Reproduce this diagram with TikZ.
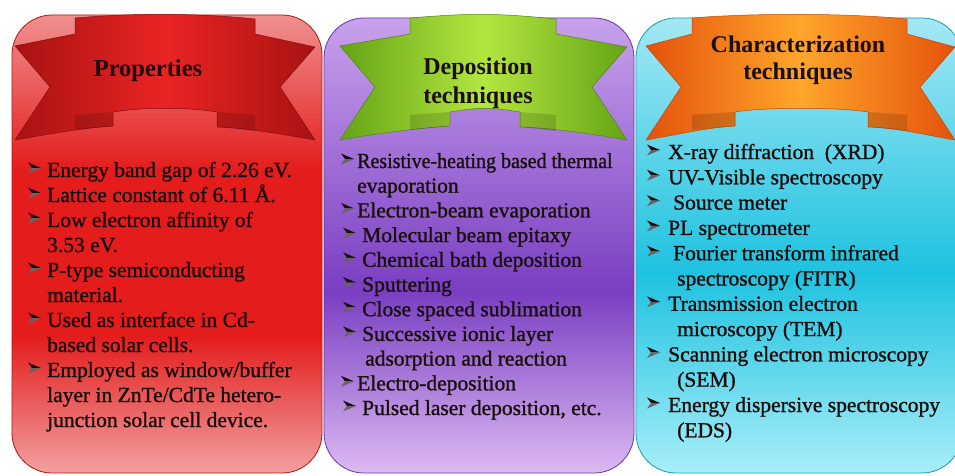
\documentclass[tikz,border=0pt]{standalone}
\usepackage{fontspec}
\setmainfont{Liberation Serif}
\newfontfamily\bodyfont{Liberation Serif}[FakeBold=1.2]
\definecolor{rT}{HTML}{F09090}
\definecolor{rM}{HTML}{E41C1C}
\definecolor{rB}{HTML}{F2A0A0}
\definecolor{pT}{HTML}{C8A2EC}
\definecolor{pM}{HTML}{7A3EC2}
\definecolor{pB}{HTML}{DCBAF2}
\definecolor{cT}{HTML}{A4E8F4}
\definecolor{cM}{HTML}{1EC2E0}
\definecolor{cB}{HTML}{A8EEF8}
\definecolor{rD}{HTML}{A81212}
\definecolor{rC}{HTML}{EA2424}
\definecolor{gD}{HTML}{64A416}
\definecolor{gC}{HTML}{B4E640}
\definecolor{oD}{HTML}{E4520C}
\definecolor{oC}{HTML}{FFA62A}
\definecolor{textc}{HTML}{1A0E0E}
\pgfdeclareverticalshading{redpanel}{100bp}{color(0bp)=(rB); color(25bp)=(rB); color(40bp)=(rM); color(58bp)=(rM); color(75bp)=(rT); color(100bp)=(rT)}
\pgfdeclareverticalshading{purppanel}{100bp}{color(0bp)=(pB); color(25bp)=(pB); color(45bp)=(pM); color(75bp)=(pT); color(100bp)=(pT)}
\pgfdeclareverticalshading{cyanpanel}{100bp}{color(0bp)=(cB); color(25bp)=(cB); color(47bp)=(cM); color(75bp)=(cT); color(100bp)=(cT)}
\pgfdeclarehorizontalshading{redrib}{100bp}{color(0bp)=(rD); color(25bp)=(rD); color(50bp)=(rC); color(75bp)=(rD); color(100bp)=(rD)}
\pgfdeclarehorizontalshading{greenrib}{100bp}{color(0bp)=(gD); color(25bp)=(gD); color(50bp)=(gC); color(75bp)=(gD); color(100bp)=(gD)}
\pgfdeclarehorizontalshading{orangerib}{100bp}{color(0bp)=(oD); color(25bp)=(oD); color(50bp)=(oC); color(75bp)=(oD); color(100bp)=(oD)}
\tikzset{
  txt/.style={anchor=base west, inner sep=0pt, text=textc, font=\bodyfont\fontsize{21.5}{25}\selectfont},
  ttl/.style={anchor=base, inner sep=0pt, text=textc, font=\bfseries\fontsize{24.5}{29}\selectfont},
  panel/.style={line width=0.8pt, rounded corners=40pt},
  fold/.style={fill=black, fill opacity=0.14},
  bultop/.style={fill=textc},
  bulbot/.style={fill=textc!65!white}
}
% ribbon: #1 L, #2 a, #3 b, #4 c, #5 d, #6 R, #7 style, #8 edge colour
\newcommand\ribbonshape[8]{%
  \path[#7, draw=#8, line width=0.5pt] (#2,18) .. controls ({#2+60},13) and ({#5-60},13) .. (#5,19)
    -- (#5,34) -- (#6,47) -- ({#6-35},87) -- (#6,140)
    .. controls ({#6-40},133) and ({#4+30},128) .. (#4,127) -- (#4,112)
    .. controls ({#4-30},107) and ({#3+30},107) .. (#3,112) -- (#3,126)
    .. controls ({#3-30},128) and ({#1+40},133) .. (#1,140)
    -- ({#1+35},87) -- (#1,46) -- (#2,34) -- cycle;
  \path[fold] (#2,115) -- (#3,112) -- (#3,126) -- (#2,130) -- cycle;
  \path[fold] (#5,115) -- (#4,112) -- (#4,127) -- (#5,131) -- cycle;
}
% bullet arrowhead drawn at x=#1, baseline #2
\newcommand\bulletmark[2]{%
  \path[bultop] (#1,{#2-14.5}) -- ({#1+13},{#2-9}) -- ({#1+4},{#2-9}) -- cycle;
  \path[bulbot] (#1,{#2-3.5}) -- ({#1+13},{#2-9}) -- ({#1+4},{#2-9}) -- cycle;
}
\newcommand\itm[5]{\bulletmark{#2}{#4}\node[txt] (#1) at (#3,#4) {#5};}
\newcommand\cnt[4]{\node[txt] (#1) at (#2,#3) {#4};}
\begin{document}
\begin{tikzpicture}[x=1pt, y=-1pt]
\useasboundingbox (0,0) rectangle (955,476);
\clip (0,0) rectangle (955,476);
\fill[white] (0,0) rectangle (955,476);
% panels
\path[panel, draw=rD!80!rM, shading=redpanel] (12,15) rectangle (322,473);
\path[panel, draw=pM!85!black, shading=purppanel] (324,18) rectangle (634,473);
\path[panel, draw=cM!80!black, shading=cyanpanel] (636,18) rectangle (962,473);
% ribbons
\ribbonshape{15}{75}{113}{217}{255}{315}{shading=redrib}{rD!80!black}
\ribbonshape{340}{410}{450}{520}{556}{627}{shading=greenrib}{gD!80!black}
\ribbonshape{646}{692}{735}{868}{907}{955}{shading=orangerib}{oD!85!black}
% titles
\node[ttl] (t1) at (148,77) {Properties};
\node[ttl, font=\bfseries\fontsize{24}{28}\selectfont] (t2a) at (478,75) {Deposition};
\node[ttl, font=\bfseries\fontsize{24}{28}\selectfont] (t2b) at (478,103) {techniques};
\node[ttl, font=\bfseries\fontsize{24}{28}\selectfont] (t3a) at (798,53) {Characterization};
\node[ttl, font=\bfseries\fontsize{24}{28}\selectfont] (t3b) at (798,80) {techniques};
% panel 1
\itm{a0}{28}{47}{177}{Energy band gap of 2.26 eV.}
\itm{a1}{28}{47}{202}{Lattice constant of 6.11 Å.}
\itm{a2}{28}{47}{227}{Low electron affinity of}
\cnt{a3}{47}{252}{3.53 eV.}
\itm{a4}{28}{47}{277}{P-type semiconducting}
\cnt{a5}{47}{302}{material.}
\itm{a6}{28}{47}{327}{Used as interface in Cd-}
\cnt{a7}{47}{352}{based solar cells.}
\itm{a8}{28}{47}{377}{Employed as window/buffer}
\cnt{a9}{47}{402}{layer in ZnTe/CdTe hetero-}
\cnt{a10}{47}{427}{junction solar cell device.}
% panel 2
\itm{b0}{341}{357}{168}{\scalebox{0.93}[1]{Resistive-heating based thermal}}
\cnt{b1}{357}{192.7}{evaporation}
\itm{b2}{341}{357}{217.4}{Electron-beam evaporation}
\itm{b3}{343}{362}{242.1}{Molecular beam epitaxy}
\itm{b4}{343}{362}{266.8}{Chemical bath deposition}
\itm{b5}{343}{362}{291.5}{Sputtering}
\itm{b6}{343}{362}{316.2}{Close spaced sublimation}
\itm{b7}{343}{362}{340.9}{Successive ionic layer}
\cnt{b8}{365}{365.6}{adsorption and reaction}
\itm{b9}{341}{357}{390.3}{Electro-deposition}
\itm{b10}{343}{362}{415}{Pulsed laser deposition, etc.}
% panel 3
\itm{c0}{647}{668}{159}{X-ray diffraction\ \ (XRD)}
\itm{c1}{647}{668}{184.3}{UV-Visible spectroscopy}
\itm{c2}{647}{673}{209.6}{Source meter}
\itm{c3}{647}{668}{234.9}{PL spectrometer}
\itm{c4}{647}{673}{260.2}{Fourier transform infrared}
\cnt{c5}{677}{285.5}{spectroscopy (FITR)}
\itm{c6}{647}{668}{310.8}{Transmission electron}
\cnt{c7}{677}{336.1}{microscopy (TEM)}
\itm{c8}{647}{668}{361.4}{Scanning electron microscopy}
\cnt{c9}{677}{386.7}{(SEM)}
\itm{c10}{647}{668}{412}{Energy dispersive spectroscopy}
\cnt{c11}{677}{437.3}{(EDS)}
\end{tikzpicture}
\end{document}
